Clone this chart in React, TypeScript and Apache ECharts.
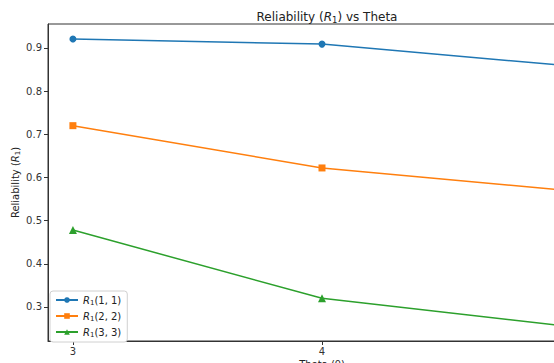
import React, { useEffect, useRef } from "react";
import * as echarts from "echarts";

const theta = [3, 4, 5];
const r11 = [0.921, 0.909, 0.858];
const r22 = [0.72, 0.622, 0.569];
const r33 = [0.478, 0.32, 0.254];
const yTicks = [0.3, 0.4, 0.5, 0.6, 0.7, 0.8, 0.9];
const xTicks = [3, 4];
const seriesNames = ["R1(1,1)", "R1(2,2)", "R1(3,3)"];
const seriesLabels: Record<string, string> = {
  "R1(1,1)": "{i|R}{s|1}{n|(1, 1)}",
  "R1(2,2)": "{i|R}{s|1}{n|(2, 2)}",
  "R1(3,3)": "{i|R}{s|1}{n|(3, 3)}",
};

const FONT = "DejaVu Sans";

export default function App() {
  const ref = useRef<HTMLDivElement>(null);
  useEffect(() => {
    if (!ref.current) return;
    const chart = echarts.init(ref.current, null, { renderer: "svg" });
    const values = [r11, r22, r33];
    const colors = ["#1f77b4", "#ff7f0e", "#2ca02c"];
    const symbols = ["circle", "rect", "triangle"];
    const rich = {
      i: { fontFamily: FONT, fontStyle: "italic", fontSize: 10, color: "#222" },
      s: { fontFamily: FONT, fontSize: 7, color: "#222", padding: [5, 0, 0, 0] },
      n: { fontFamily: FONT, fontSize: 10, color: "#222" },
    };
    chart.setOption({
      animation: false,
      backgroundColor: "#fff",
      title: {
        text: "Reliability ({i|R}{s|1}{n|) vs Theta}",
        left: 322,
        top: 5,
        textAlign: "center",
        textStyle: {
          fontFamily: FONT,
          fontSize: 12,
          fontWeight: "normal",
          color: "#222",
          rich: {
            i: { fontFamily: FONT, fontStyle: "italic", fontSize: 12, color: "#222" },
            s: { fontFamily: FONT, fontSize: 8.5, color: "#222", padding: [5, 0, 0, 0] },
            n: { fontFamily: FONT, fontSize: 12, color: "#222" },
          },
        },
      },
      grid: {
        left: 48,
        top: 24,
        width: 548,
        height: 317,
        show: true,
        borderColor: "#333",
        borderWidth: 1,
        backgroundColor: "transparent",
        containLabel: false,
        outerBoundsMode: "none",
      },
      legend: {
        data: seriesNames,
        left: 50,
        top: 291,
        orient: "vertical",
        itemWidth: 22,
        itemHeight: 7,
        itemGap: 5,
        padding: [4, 6, 4, 5],
        backgroundColor: "#fff",
        borderColor: "#d0d0d0",
        borderWidth: 1,
        borderRadius: 3,
        formatter: (name: string) => seriesLabels[name],
        textStyle: { fontFamily: FONT, fontSize: 10, color: "#222", rich },
      },
      xAxis: {
        type: "value",
        min: 2.9,
        max: 5.1,
        name: "Theta (θ)",
        nameLocation: "middle",
        nameGap: 18,
        nameMoveOverlap: false,
        nameTextStyle: { fontFamily: FONT, fontSize: 10, color: "#222", verticalAlign: "top" },
        axisLine: { show: true, lineStyle: { color: "#333", width: 1 } },
        axisTick: { show: true, length: 4, customValues: xTicks, lineStyle: { color: "#333" } },
        axisLabel: {
          customValues: xTicks,
          showMinLabel: true,
          hideOverlap: false,
          fontFamily: FONT,
          fontSize: 10,
          color: "#333",
          margin: 5,
        },
        splitLine: { show: false },
      },
      yAxis: {
        type: "value",
        min: 0.221,
        max: 0.9556,
        name: "Reliability ({i|R}{s|1}{n|)}",
        nameLocation: "middle",
        nameGap: 27,
        nameRotate: 90,
        nameMoveOverlap: false,
        nameTextStyle: { fontFamily: FONT, fontSize: 10, color: "#222", rich },
        axisLine: { show: true, lineStyle: { color: "#333", width: 1 } },
        axisTick: { show: true, length: 4, customValues: yTicks, lineStyle: { color: "#333" } },
        axisLabel: {
          customValues: yTicks,
          fontFamily: FONT,
          fontSize: 10,
          color: "#333",
          margin: 6,
          formatter: (v: number) => v.toFixed(1),
        },
        splitLine: { show: false },
      },
      series: seriesNames.map((name, k) => ({
        name,
        type: "line",
        data: theta.map((t, j) => [t, values[k][j]]),
        symbol: symbols[k],
        symbolSize: k === 2 ? 8 : 7,
        lineStyle: { color: colors[k], width: 1.5 },
        itemStyle: { color: colors[k] },
        emphasis: { disabled: true },
      })),
    });
    return () => chart.dispose();
  }, []);
  return (
    <div
      ref={ref}
      style={{ position: "fixed", left: 0, top: 0, width: 554, height: 363, overflow: "hidden" }}
    />
  );
}
